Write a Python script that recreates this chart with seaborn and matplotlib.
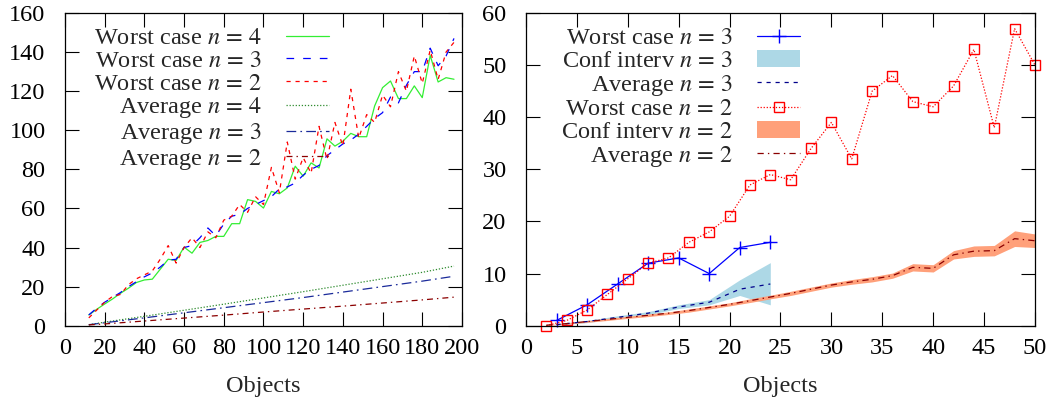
import matplotlib
matplotlib.use("Agg")
import matplotlib.pyplot as plt
import seaborn as sns

# ---- left panel: objects 12..196 ----
objects_left = [12, 16, 20, 24, 28, 32, 36, 40, 44, 48, 52, 56, 60, 64, 68, 72,
                76, 80, 84, 88, 92, 96, 100, 104, 108, 112, 116, 120, 124, 128,
                132, 136, 140, 144, 148, 152, 156, 160, 164, 168, 172, 176, 180,
                184, 188, 192, 196]
worst_n4 = [5.5, 8.4, 11.1, 13.7, 16.6, 19.2, 22.1, 23.4, 23.8, 28.9, 34.0, 33.4,
            40.2, 37.1, 42.6, 43.6, 45.7, 45.7, 52.2, 52.2, 64.5, 63.6, 60.2,
            68.7, 67.5, 70.5, 81.6, 76.5, 83.3, 80.7, 95.6, 91.9, 94.4, 98.4,
            96.7, 96.7, 112.4, 121.8, 125.2, 116.2, 116.2, 122.7, 116.7, 138.3,
            124.7, 126.9, 126.1]
worst_n3 = [5.5, 9.0, 12.0, 14.5, 17.0, 20.0, 22.5, 25.0, 27.0, 30.0, 33.5, 34.0,
            40.0, 41.0, 45.0, 50.0, 46.0, 52.0, 56.0, 57.0, 60.0, 62.0, 64.0,
            66.0, 70.0, 71.0, 73.0, 77.0, 80.0, 82.0, 87.0, 90.0, 93.0, 95.0,
            98.0, 102.0, 106.0, 109.0, 117.0, 114.0, 123.0, 130.0, 130.0, 142.0,
            133.0, 138.0, 147.0]
worst_n2 = [4.0, 8.0, 12.0, 15.0, 16.0, 21.0, 24.0, 26.0, 28.0, 34.0, 41.0, 32.0,
            40.0, 45.0, 40.0, 48.0, 45.0, 54.0, 56.0, 62.0, 58.0, 66.0, 62.0,
            81.0, 68.0, 94.0, 75.0, 86.0, 78.0, 102.0, 85.0, 104.0, 92.0, 121.0,
            96.0, 108.0, 104.0, 118.0, 112.0, 130.0, 120.0, 138.0, 124.0, 141.0,
            126.0, 140.0, 145.0]
objects_avg = [12, 20, 40, 60, 80, 100, 120, 140, 160, 180, 196]
avg_n4 = [0.5, 1.8, 4.8, 7.9, 11.0, 14.2, 17.4, 20.7, 24.0, 27.3, 30.5]
avg_n3 = [0.5, 1.5, 4.0, 6.6, 9.2, 11.8, 14.4, 17.2, 20.0, 22.8, 25.3]
avg_n2 = [0.4, 0.9, 2.4, 3.9, 5.4, 7.0, 8.5, 10.0, 11.6, 13.2, 14.6]

# ---- right panel ----
objects_r3 = [3, 6, 9, 12, 15, 18, 21, 24]
worst_r3 = [1, 4, 8, 12, 13, 10, 15, 16]
avg_r3 = [0.2, 0.8, 1.6, 2.4, 3.6, 4.5, 7.0, 8.0]
conf_r3_lo = [0.1, 0.6, 1.4, 2.1, 3.3, 4.0, 5.8, 4.0]
conf_r3_hi = [0.4, 1.0, 1.9, 2.7, 4.0, 5.0, 8.8, 12.1]

objects_r2 = [2, 4, 6, 8, 10, 12, 14, 16, 18, 20, 22, 24, 26, 28, 30, 32, 34,
              36, 38, 40, 42, 44, 46, 48, 50]
worst_r2 = [0, 1, 3, 6, 9, 12, 13, 16, 18, 21, 27, 29, 28, 34, 39, 32, 45, 48,
            43, 42, 46, 53, 38, 57, 50]
avg_r2 = [0.1, 0.4, 0.8, 1.2, 1.6, 2.0, 2.4, 2.9, 3.5, 4.1, 4.8, 5.5, 6.2, 7.0,
          7.8, 8.4, 8.9, 9.6, 11.2, 11.0, 13.6, 14.3, 14.4, 16.7, 16.3]
conf_r2_lo = [0.05, 0.3, 0.65, 1.0, 1.4, 1.75, 2.15, 2.6, 3.2, 3.8, 4.45, 5.15,
              5.8, 6.6, 7.4, 7.95, 8.4, 9.1, 10.5, 10.3, 12.8, 13.3, 13.4, 15.2,
              15.0]
conf_r2_hi = [0.15, 0.5, 0.95, 1.4, 1.8, 2.25, 2.65, 3.2, 3.8, 4.4, 5.15, 5.85,
              6.6, 7.4, 8.2, 8.85, 9.4, 10.1, 11.9, 11.7, 14.4, 15.3, 15.4, 18.2,
              17.6]

sns.set_theme(style="ticks")
plt.rcParams["font.family"] = ["Liberation Serif", "DejaVu Serif"]
plt.rcParams["mathtext.fontset"] = "stix"
plt.rcParams["lines.scale_dashes"] = False
FS = 17.5

fig = plt.figure(figsize=(10.6, 4.01), dpi=100)
ax1 = fig.add_axes([0.0613, 0.1878, 0.3745, 0.7798])
ax2 = fig.add_axes([0.4962, 0.1878, 0.4802, 0.7798])

LW = 0.9
LEG = dict(loc="upper right", frameon=False, markerfirst=False, fontsize=FS,
           handlelength=1.75, handletextpad=1.0, labelspacing=0.03,
           borderpad=0, borderaxespad=0, numpoints=1)


def style_axes(ax):
    for s in ax.spines.values():
        s.set_visible(True)
        s.set_color("black")
        s.set_linewidth(0.9)
    ax.tick_params(direction="in", length=10, width=0.8, top=True, right=True,
                   labelsize=FS, colors="black")
    ax.tick_params(axis="y", pad=14)
    ax.tick_params(axis="x", pad=9)
    ax.set_xlabel("Objects", fontsize=FS, labelpad=12)
    ax.set_ylabel("")


# left
sns.lineplot(x=objects_left, y=worst_n4, ax=ax1, color="#33ee33", lw=LW,
             label="Worst case $n\\,=\\,4$")
sns.lineplot(x=objects_left, y=worst_n3, ax=ax1, color="#0000ff", lw=LW,
             linestyle=(0, (5.5, 6.5)), label="Worst case $n\\,=\\,3$")
sns.lineplot(x=objects_left, y=worst_n2, ax=ax1, color="#ff0000", lw=LW,
             linestyle=(0, (3, 3.5)), label="Worst case $n\\,=\\,2$")
sns.lineplot(x=objects_avg, y=avg_n4, ax=ax1, color="#2e8b2e", lw=LW,
             linestyle=(0, (0.9, 1.3)), label="Average $n\\,=\\,4$")
sns.lineplot(x=objects_avg, y=avg_n3, ax=ax1, color="#1a2a9a", lw=LW,
             linestyle=(0, (7, 3, 1.2, 3)), label="Average $n\\,=\\,3$")
sns.lineplot(x=objects_avg, y=avg_n2, ax=ax1, color="#8b0000", lw=LW,
             linestyle=(0, (4.3, 2.9, 1.0, 2.9)), label="Average $n\\,=\\,2$")
ax1.set_xlim(0, 200)
ax1.set_ylim(0, 160)
ax1.set_xticks(range(0, 201, 20))
ax1.set_yticks(range(0, 161, 20))
style_axes(ax1)
h1, l1 = ax1.get_legend_handles_labels()
ax1.legend(h1, l1, bbox_to_anchor=(0.665, 0.955), **LEG)

# right
band3 = ax2.fill_between(objects_r3, conf_r3_lo, conf_r3_hi, color="#add8e6",
                         lw=0, label="Conf interv $n\\,=\\,3$")
band2 = ax2.fill_between(objects_r2, conf_r2_lo, conf_r2_hi, color="#ffa07a",
                         lw=0, label="Conf interv $n\\,=\\,2$")
sns.lineplot(x=objects_r3, y=worst_r3, ax=ax2, color="#0000ff", lw=LW,
             marker="+", markersize=10, markeredgewidth=1.0,
             markeredgecolor="#0000ff", clip_on=False,
             label="Worst case $n\\,=\\,3$")
sns.lineplot(x=objects_r3, y=avg_r3, ax=ax2, color="#00008b", lw=LW,
             linestyle=(0, (3, 3.5)), label="Average $n\\,=\\,3$")
sns.lineplot(x=objects_r2, y=worst_r2, ax=ax2, color="#ff0000", lw=LW,
             linestyle=(0, (0.9, 1.3)), marker="s", markersize=7.5,
             markerfacecolor="none", markeredgecolor="#ff0000",
             markeredgewidth=1.0, clip_on=False,
             label="Worst case $n\\,=\\,2$")
sns.lineplot(x=objects_r2, y=avg_r2, ax=ax2, color="#8b0000", lw=LW,
             linestyle=(0, (4.5, 3, 1.0, 3)), label="Average $n\\,=\\,2$")
ax2.set_xlim(0, 50)
ax2.set_ylim(0, 60)
ax2.set_xticks(range(0, 51, 5))
ax2.set_yticks(range(0, 61, 10))
style_axes(ax2)
lines2 = ax2.get_lines()
handles2 = [lines2[0], band3, lines2[1], lines2[2], band2, lines2[3]]
labels2 = [h.get_label() for h in handles2]
ax2.legend(handles2, labels2, bbox_to_anchor=(0.538, 0.955), **LEG)

fig.savefig("out.png", dpi=100)
